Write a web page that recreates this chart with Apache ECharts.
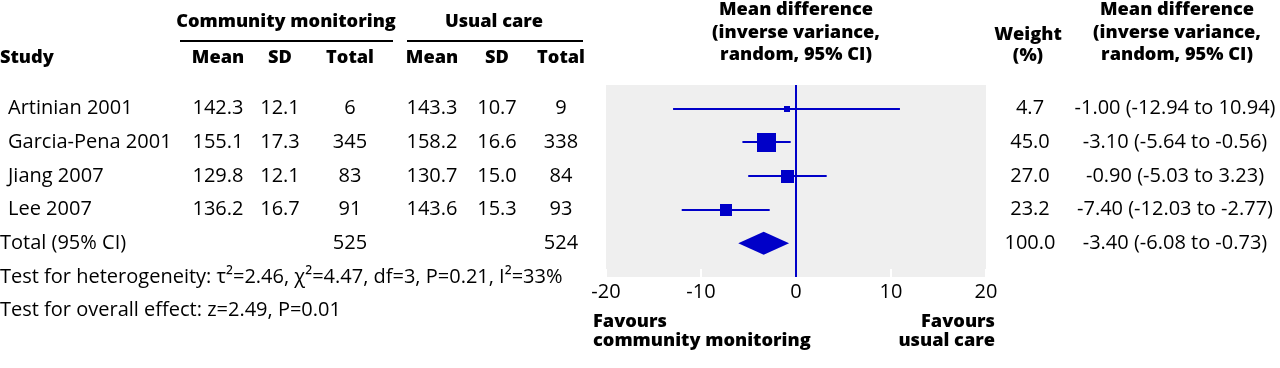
<!DOCTYPE html>
<html><head><meta charset="utf-8">
<script src="https://cdn.jsdelivr.net/npm/echarts@6/dist/echarts.min.js"></script>
<style>html,body{margin:0;padding:0;background:#fff}#c{width:1280px;height:368px}</style>
</head><body><div id="c"></div>
<script>
const studies = ['Artinian 2001','Garcia-Pena 2001','Jiang 2007','Lee 2007'];
const cmMean = [142.3,155.1,129.8,136.2];
const cmSD   = [12.1,17.3,12.1,16.7];
const cmN    = [6,345,83,91];
const ucMean = [143.3,158.2,130.7,143.6];
const ucSD   = [10.7,16.6,15.0,15.3];
const ucN    = [9,338,84,93];
const weights = [4.7,45.0,27.0,23.2];
const md = [-1.00,-3.10,-0.90,-7.40];
const lo = [-12.94,-5.64,-5.03,-12.03];
const hi = [10.94,-0.56,3.23,-2.77];
const totalLabel = 'Total (95% CI)';
const totalCmN = 525, totalUcN = 524, totalWeight = 100.0;
const totalMd = -3.40, totalLo = -6.08, totalHi = -0.73;
const heteroText = 'Test for heterogeneity: τ²=2.46, χ²=4.47, df=3, P=0.21, I²=33%';
const overallText = 'Test for overall effect: z=2.49, P=0.01';
const xTicks = [-20,-10,0,10,20];

const FONT = '"Open Sans", sans-serif';
const FS = 20;
const HFS = 18.2;
const BLUE = '#0000c8';
const COLS = {study:8, cmMean:218, cmSD:280, cmN:350, ucMean:432, ucSD:497, ucN:561, weight:1030, ci:1175};

function fmtCI(m,l,h){ return m.toFixed(2)+' ('+l.toFixed(2)+' to '+h.toFixed(2)+')'; }

const tableRows = studies.map((s,i)=>({
  value:[0,i],
  cells:[['study',s,'left'],['cmMean',cmMean[i].toFixed(1)],['cmSD',cmSD[i].toFixed(1)],['cmN',String(cmN[i])],
         ['ucMean',ucMean[i].toFixed(1)],['ucSD',ucSD[i].toFixed(1)],['ucN',String(ucN[i])],
         ['weight',weights[i].toFixed(1)],['ci',fmtCI(md[i],lo[i],hi[i])]]
}));
tableRows.push({value:[0,4], cells:[['x0',totalLabel,'left'],['cmN',String(totalCmN)],['ucN',String(totalUcN)],
  ['weight',totalWeight.toFixed(1)],['ci',fmtCI(totalMd,totalLo,totalHi)]]});
tableRows.push({value:[0,5], cells:[['x0',heteroText,'left']]});
tableRows.push({value:[0,6], cells:[['x0',overallText,'left']]});

const forestData = studies.map((s,i)=>[md[i],i,lo[i],hi[i],weights[i]]);

const chart = echarts.init(document.getElementById('c'));
function hdr(text,x,y,align){
  return {type:'text',x:x,y:y,style:{text:text,font:'800 '+HFS+'px '+FONT,fill:'#000',align:align||'center',verticalAlign:'middle'}};
}
chart.setOption({
  animation:false,
  grid:{left:606,width:380,top:85,height:192,show:true,backgroundColor:'#efefef',borderWidth:0},
  xAxis:{type:'value',min:-20,max:20,interval:10,
    axisLine:{show:false,onZero:false},splitLine:{show:false},
    axisTick:{show:true,inside:true,length:8,lineStyle:{color:'#fff',width:2}},
    axisLabel:{margin:5,fontSize:FS,fontFamily:FONT,color:'#000',formatter:v=>xTicks.indexOf(v)>=0?String(v):''}},
  yAxis:{type:'value',min:-0.7,max:5,inverse:true,show:false},
  graphic:[
    hdr('Community monitoring',286,22),
    {type:'line',shape:{x1:180,y1:41,x2:393,y2:41},style:{stroke:'#000',lineWidth:2}},
    hdr('Usual care',494,22),
    {type:'line',shape:{x1:407,y1:41,x2:583,y2:41},style:{stroke:'#000',lineWidth:2}},
    hdr('Study',0,58,'left'),
    hdr('Mean',COLS.cmMean,58),hdr('SD',COLS.cmSD,58),hdr('Total',COLS.cmN,58),
    hdr('Mean',COLS.ucMean,58),hdr('SD',COLS.ucSD,58),hdr('Total',COLS.ucN,58),
    hdr('Mean difference',796,10),hdr('(inverse variance,',796,33),hdr('random, 95% CI)',796,55),
    hdr('Weight',1028,35),hdr('(%)',1028,56),
    hdr('Mean difference',1177,10),hdr('(inverse variance,',1177,33),hdr('random, 95% CI)',1177,55),
    hdr('Favours',593,322,'left'),hdr('community monitoring',593,341,'left'),
    hdr('Favours',995,322,'right'),hdr('usual care',995,341,'right')
  ],
  series:[
    {type:'custom',clip:false,silent:true,data:tableRows,
     renderItem:function(params,api){
       const row = tableRows[params.dataIndex];
       const y = api.coord([0,row.value[1]])[1];
       return {type:'group',children:row.cells.map(c=>({
         type:'text',x:c[0]==='x0'?0:COLS[c[0]],y:y,
         style:{text:c[1],font:FS+'px '+FONT,fill:'#000',align:c[2]||'center',verticalAlign:'middle'}}))};
     }},
    {type:'custom',clip:false,silent:true,data:forestData,
     renderItem:function(params,api){
       const m=api.value(0), r=api.value(1), l=api.value(2), h=api.value(3), w=api.value(4);
       const pm=api.coord([m,r]), pl=api.coord([l,r]), ph=api.coord([h,r]);
       const y=Math.round(pm[1]);
       const s=Math.round(5+0.31*w);
       return {type:'group',children:[
         {type:'line',shape:{x1:pl[0],y1:y,x2:ph[0],y2:y},style:{stroke:BLUE,lineWidth:2}},
         {type:'rect',shape:{x:Math.round(pm[0]-s/2),y:Math.round(y-s/2),width:s,height:s},style:{fill:BLUE}}
       ]};
     },
     markLine:{silent:true,symbol:'none',label:{show:false},lineStyle:{color:BLUE,width:2,type:'solid'},data:[{xAxis:0}]}
    },
    {type:'custom',clip:false,silent:true,data:[[totalMd,4,totalLo,totalHi]],
     renderItem:function(params,api){
       const m=api.value(0), r=api.value(1), l=api.value(2), h=api.value(3);
       const pm=api.coord([m,r]), pl=api.coord([l,r]), ph=api.coord([h,r]);
       const hh=11.5;
       return {type:'polygon',shape:{points:[[pl[0],pl[1]],[pm[0],pm[1]-hh],[ph[0],ph[1]],[pm[0],pm[1]+hh]]},style:{fill:BLUE}};
     }}
  ]
});
</script></body></html>
